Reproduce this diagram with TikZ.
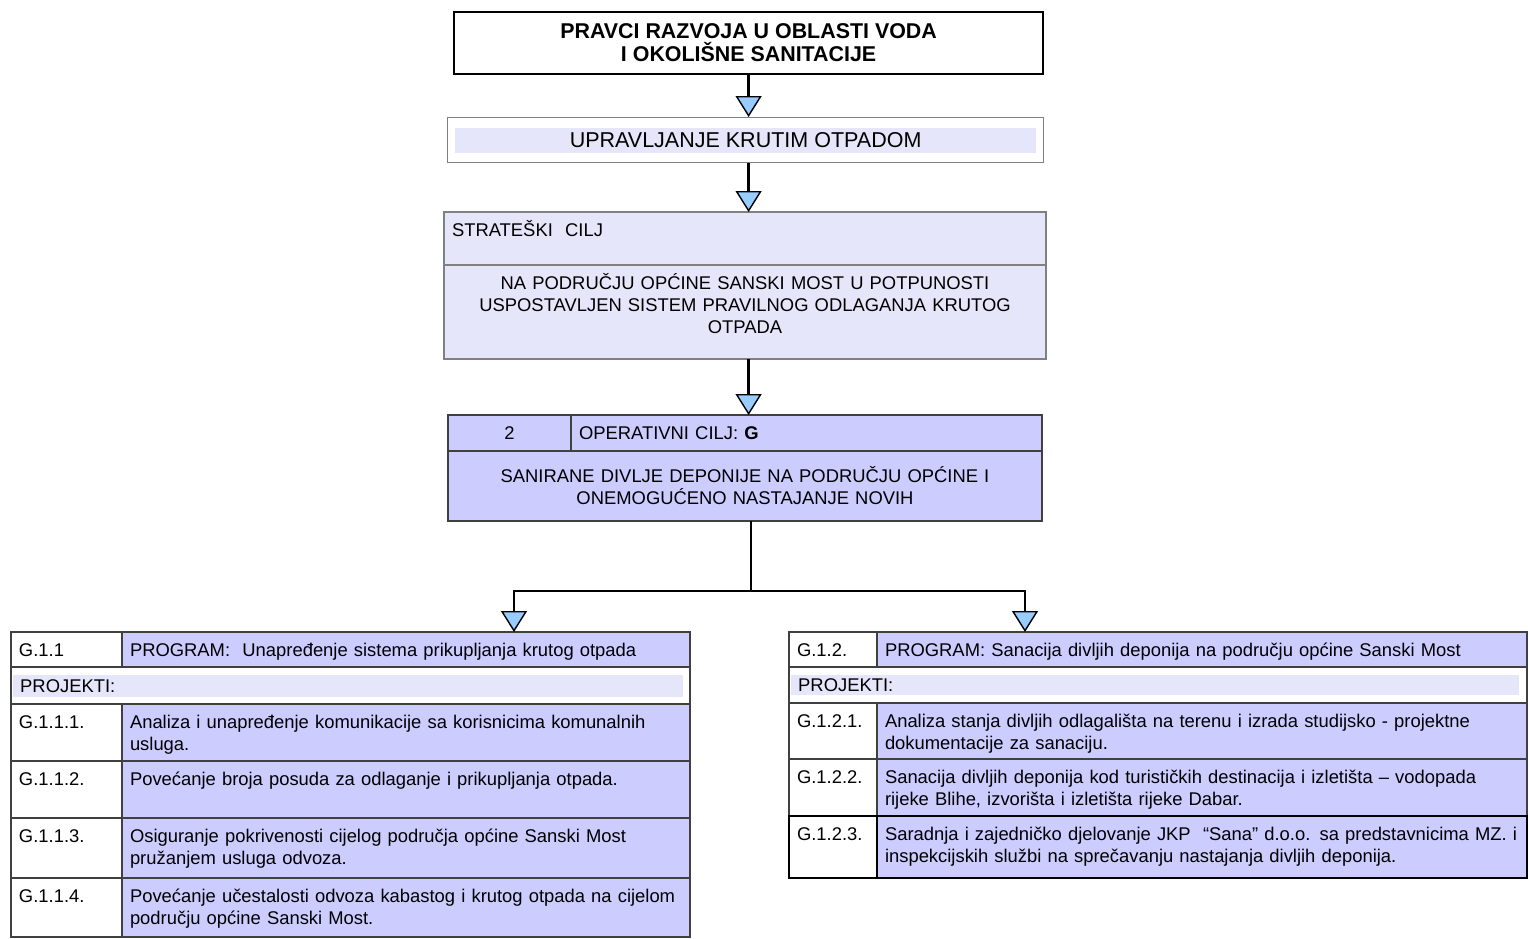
\documentclass[tikz,border=0pt]{standalone}
\usepackage{fontspec}
\setmainfont{Liberation Sans}
\usetikzlibrary{arrows.meta,positioning}

\definecolor{lav}{HTML}{CCCCFF}
\definecolor{pale}{HTML}{E6E6FA}
\definecolor{arrowblue}{HTML}{99CCFF}
\definecolor{linegray}{HTML}{404040}

\tikzset{
	txt/.style={font=\fontsize{18.4}{22}\selectfont},
	cell/.style={draw=linegray, line width=1.3pt, outer sep=0pt, anchor=north west, inner xsep=8pt, inner ysep=0pt, text height=24pt, align=left, txt},
	lid/.style={cell, fill=white, text width=95pt},
	ltx/.style={cell, fill=lav, text width=552pt},
	rid/.style={cell, fill=white, text width=72pt},
	rtx/.style={cell, fill=lav, text width=634pt},
	sel/.style={draw=black, line width=2.6pt},
	band/.style={fill=pale, anchor=north west, inner xsep=7pt, inner ysep=0pt, align=left, txt},
	conn/.style={line width=2.4pt, -{Triangle[width=26pt,length=21pt,fill=arrowblue,line width=1.4pt]}}
}

\begin{document}
\begin{tikzpicture}[x=1pt,y=-1pt]
			\useasboundingbox (0,0) rectangle (1529,938);
			\node[draw, line width=2.2pt, fill=white, minimum width=589pt, minimum height=62pt, anchor=north west, inner sep=0pt, align=center, font=\bfseries\fontsize{21.4}{23}\selectfont] (title) at (453,11) {PRAVCI RAZVOJA U OBLASTI VODA\\I OKOLIŠNE SANITACIJE};
			\node[draw=gray, line width=1.2pt, fill=white, minimum width=596pt, minimum height=45pt, anchor=north west, inner sep=0pt] (upr) at (447,117) {};
			\node[band, anchor=center, align=center, minimum width=581pt, minimum height=25pt, font=\fontsize{21.5}{24}\selectfont] (uprt) at (upr.center) {UPRAVLJANJE KRUTIM OTPADOM};
			\node[cell, draw=gray, fill=pale, text width=586pt, text depth=29pt] (strh) at (444,212) {STRATEŠKI~ CILJ};
			\node[cell, draw=gray, fill=pale, text width=586pt, text depth=70pt, align=center] (strb) at (444,265) {NA PODRUČJU OPĆINE SANSKI MOST U POTPUNOSTI\\USPOSTAVLJEN SISTEM PRAVILNOG ODLAGANJA KRUTOG\\OTPADA};
			\node[cell, fill=lav, text width=107pt, text depth=12pt, align=center] (opcn) at (448,415) {2};
			\node[cell, fill=lav, text width=455pt, text depth=12pt] (opch) at (571,415) {OPERATIVNI CILJ: \textbf{G}};
			\node[cell, fill=lav, text width=578pt, text height=31pt, text depth=39pt, align=center] (opc) at (448,451) {SANIRANE DIVLJE DEPONIJE NA PODRUČJU OPĆINE I\\ONEMOGUĆENO NASTAJANJE NOVIH};
			\node[lid, text depth=11pt] (g11) at (11,632) {G.1.1};
			\node[ltx, text depth=11pt] (g11p) at (122,632) {PROGRAM:~ Unapređenje sistema prikupljanja krutog otpada};
			\node[cell, fill=white, text width=663pt, text depth=13pt] (lproj) at (11,667) {};
			\node[band, text width=656pt, minimum height=22pt] (lprojt) at (13,675) {PROJEKTI:};
			\node[lid, text depth=33pt] (g111) at (11,704) {G.1.1.1.};
			\node[ltx, text depth=33pt] (g111t) at (122,704) {Analiza i unapređenje komunikacije sa korisnicima komunalnih\\usluga.};
			\node[lid, text depth=33pt] (g112) at (11,761) {G.1.1.2.};
			\node[ltx, text depth=33pt] (g112t) at (122,761) {Povećanje broja posuda za odlaganje i prikupljanja otpada.};
			\node[lid, text depth=36pt] (g113) at (11,818) {G.1.1.3.};
			\node[ltx, text depth=36pt] (g113t) at (122,818) {Osiguranje pokrivenosti cijelog područja općine Sanski Most\\pružanjem usluga odvoza.};
			\node[lid, text depth=35pt] (g114) at (11,878) {G.1.1.4.};
			\node[ltx, text depth=35pt] (g114t) at (122,878) {Povećanje učestalosti odvoza kabastog i krutog otpada na cijelom\\području općine Sanski Most.};
			\node[rid, text depth=11pt] (g12) at (789,632) {G.1.2.};
			\node[rtx, text depth=11pt] (g12p) at (877,632) {PROGRAM: Sanacija divljih deponija na području općine Sanski Most};
			\node[cell, fill=white, text width=722pt, text depth=12pt] (rproj) at (789,667) {};
			\node[band, text width=714pt, minimum height=20pt] (rprojt) at (791,675) {PROJEKTI:};
			\node[rid, text depth=32pt] (g121) at (789,703) {G.1.2.1.};
			\node[rtx, text depth=32pt] (g121t) at (877,703) {Analiza stanja divljih odlagališta na terenu i izrada studijsko - projektne\\dokumentacije za sanaciju.};
			\node[rid, text depth=33pt] (g122) at (789,759) {G.1.2.2.};
			\node[rtx, text depth=33pt] (g122t) at (877,759) {Sanacija divljih deponija kod turističkih destinacija i izletišta – vodopada\\rijeke Blihe, izvorišta i izletišta rijeke Dabar.};
			\node[rtx, sel, text depth=38pt] (g123t) at (877,816) {Saradnja i zajedničko djelovanje JKP~ “Sana” d.o.o. sa predstavnicima MZ. i\\inspekcijskih službi na sprečavanju nastajanja divljih deponija.};
			\node[rid, sel, text depth=38pt] (g123) at (789,816) {G.1.2.3.};
			\coordinate (split) at (751,591);
			\coordinate (ldrop) at (514,632);
			\coordinate (rdrop) at (1025,632);
			\draw[conn] (title.south) -- (title.south |- upr.north);
			\draw[conn] (title.south |- upr.south) -- (title.south |- strh.north);
			\draw[conn] (title.south |- strb.south) -- (title.south |- opch.north);
			\draw[line width=2.4pt] (split |- opc.south) -- (split);
			\draw[conn] (split) -| (ldrop);
			\draw[conn] (split) -| (rdrop);
		\end{tikzpicture}
\end{document}
